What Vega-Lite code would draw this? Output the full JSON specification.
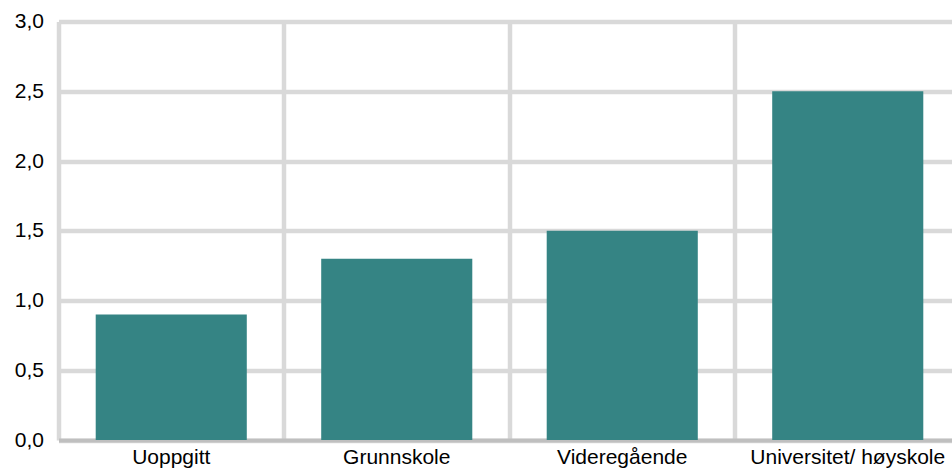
{
  "$schema": "https://vega.github.io/schema/vega-lite/v6.json",
  "width": 893,
  "height": 418.5,
  "autosize": {"type": "none"},
  "padding": {"left": 58.5, "top": 21.5, "right": 0, "bottom": 35},
  "background": "#ffffff",
  "config": {
    "view": {"stroke": null},
    "font": "Liberation Sans",
    "axis": {"labelFont": "Liberation Sans", "labelColor": "#000000", "labelFontSize": 21, "labelLimit": 0}
  },
  "data": {
    "values": [
      {"kategori": "Uoppgitt", "verdi": 0.9},
      {"kategori": "Grunnskole", "verdi": 1.3},
      {"kategori": "Videregående", "verdi": 1.5},
      {"kategori": "Universitet/ høyskole", "verdi": 2.5}
    ]
  },
  "mark": {"type": "bar", "width": {"band": 0.67}, "color": "#358484"},
  "encoding": {
    "x": {
      "field": "kategori",
      "type": "nominal",
      "sort": null,
      "scale": {"paddingInner": 0, "paddingOuter": 0, "range": [0, 902]},
      "axis": {
        "title": null,
        "labelAngle": 0,
        "grid": true,
        "bandPosition": 0,
        "gridColor": "#d9d9d9",
        "gridWidth": 4.5,
        "ticks": false,
        "domainColor": "#bfbfbf",
        "domainWidth": 4,
        "labelPadding": 6
      }
    },
    "y": {
      "field": "verdi",
      "type": "quantitative",
      "scale": {"domain": [0, 3], "nice": false},
      "axis": {
        "title": null,
        "values": [0, 0.5, 1, 1.5, 2, 2.5, 3],
        "labelExpr": "replace(format(datum.value, '.1f'), '.', ',')",
        "grid": true,
        "gridColor": "#d9d9d9",
        "gridWidth": 4.5,
        "domain": false,
        "ticks": false,
        "labelPadding": 15
      }
    }
  }
}
